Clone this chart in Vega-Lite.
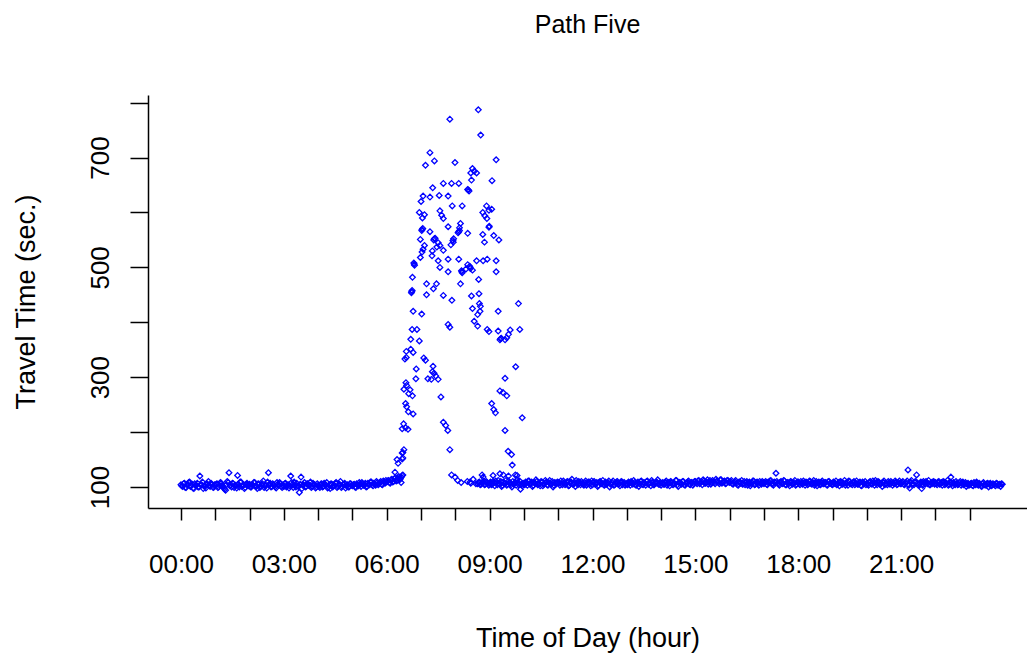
{
"$schema":"https://vega.github.io/schema/vega-lite/v6.json",
"width":879,"height":413,
"autosize":{"type":"none"},
"padding":{"left":148,"top":95,"right":0,"bottom":148},
"background":"white",
"config":{"view":{"stroke":null},"font":"Liberation Sans"},
"title":{"text":"Path Five","fontSize":25,"fontWeight":"normal","color":"black","font":"Liberation Sans","anchor":"middle","offset":57},
"layer":[
{"data":{"values":[
{"t":0,"v":104},{"t":0.05,"v":101},{"t":0.1,"v":107},{"t":0.15,"v":99},{"t":0.2,"v":105},{"t":0.25,"v":109},{"t":0.3,"v":102},{"t":0.35,"v":98},{"t":0.4,"v":106},{"t":0.45,"v":103},{"t":0.5,"v":100},{"t":0.55,"v":120},{"t":0.6,"v":104},{"t":0.65,"v":97},{"t":0.7,"v":102},{"t":0.75,"v":106},{"t":0.8,"v":110},{"t":0.85,"v":101},{"t":0.9,"v":105},{"t":0.95,"v":99},
{"t":1,"v":102},{"t":1.05,"v":106},{"t":1.1,"v":100},{"t":1.15,"v":108},{"t":1.2,"v":103},{"t":1.25,"v":98},{"t":1.3,"v":94},{"t":1.35,"v":110},{"t":1.4,"v":126},{"t":1.45,"v":104},{"t":1.5,"v":107},{"t":1.55,"v":99},{"t":1.6,"v":103},{"t":1.65,"v":121},{"t":1.7,"v":100},{"t":1.75,"v":109},{"t":1.8,"v":102},{"t":1.85,"v":97},{"t":1.9,"v":105},{"t":1.95,"v":103},
{"t":2,"v":105},{"t":2.05,"v":100},{"t":2.1,"v":103},{"t":2.15,"v":108},{"t":2.2,"v":101},{"t":2.25,"v":106},{"t":2.3,"v":99},{"t":2.35,"v":104},{"t":2.4,"v":111},{"t":2.45,"v":102},{"t":2.5,"v":98},{"t":2.55,"v":126},{"t":2.6,"v":107},{"t":2.65,"v":101},{"t":2.7,"v":104},{"t":2.75,"v":100},{"t":2.8,"v":108},{"t":2.85,"v":103},{"t":2.9,"v":106},{"t":2.95,"v":99},
{"t":3,"v":101},{"t":3.05,"v":107},{"t":3.1,"v":103},{"t":3.15,"v":98},{"t":3.2,"v":120},{"t":3.25,"v":104},{"t":3.3,"v":109},{"t":3.35,"v":100},{"t":3.4,"v":102},{"t":3.45,"v":90},{"t":3.5,"v":118},{"t":3.55,"v":103},{"t":3.6,"v":108},{"t":3.65,"v":101},{"t":3.7,"v":106},{"t":3.75,"v":102},{"t":3.8,"v":99},{"t":3.85,"v":107},{"t":3.9,"v":104},{"t":3.95,"v":100},
{"t":4,"v":103},{"t":4.05,"v":99},{"t":4.1,"v":106},{"t":4.15,"v":101},{"t":4.2,"v":104},{"t":4.25,"v":108},{"t":4.3,"v":100},{"t":4.35,"v":97},{"t":4.4,"v":105},{"t":4.45,"v":102},{"t":4.5,"v":107},{"t":4.55,"v":99},{"t":4.6,"v":103},{"t":4.65,"v":110},{"t":4.7,"v":101},{"t":4.75,"v":105},{"t":4.8,"v":98},{"t":4.85,"v":104},{"t":4.9,"v":100},{"t":4.95,"v":106},
{"t":5,"v":102},{"t":5.05,"v":105},{"t":5.1,"v":99},{"t":5.15,"v":104},{"t":5.2,"v":108},{"t":5.25,"v":101},{"t":5.3,"v":106},{"t":5.35,"v":103},{"t":5.4,"v":100},{"t":5.45,"v":107},{"t":5.5,"v":104},{"t":5.55,"v":109},{"t":5.6,"v":102},{"t":5.65,"v":106},{"t":5.7,"v":110},{"t":5.75,"v":104},{"t":5.8,"v":108},{"t":5.85,"v":105},{"t":5.9,"v":111},{"t":5.95,"v":107},
{"t":0.025,"v":102},{"t":0.075,"v":106},{"t":0.125,"v":99},{"t":0.175,"v":104},{"t":0.225,"v":108},{"t":0.275,"v":101},{"t":0.325,"v":105},{"t":0.375,"v":97},{"t":0.425,"v":103},{"t":0.475,"v":107},{"t":0.525,"v":100},{"t":0.575,"v":104},{"t":0.625,"v":109},{"t":0.675,"v":102},{"t":0.725,"v":98},{"t":0.775,"v":105},{"t":0.825,"v":103},{"t":0.875,"v":107},{"t":0.925,"v":100},{"t":0.975,"v":104},
{"t":1.025,"v":105},{"t":1.075,"v":99},{"t":1.125,"v":103},{"t":1.175,"v":107},{"t":1.225,"v":101},{"t":1.275,"v":96},{"t":1.325,"v":104},{"t":1.375,"v":108},{"t":1.425,"v":102},{"t":1.475,"v":100},{"t":1.525,"v":106},{"t":1.575,"v":103},{"t":1.625,"v":98},{"t":1.675,"v":105},{"t":1.725,"v":109},{"t":1.775,"v":101},{"t":1.825,"v":104},{"t":1.875,"v":99},{"t":1.925,"v":107},{"t":1.975,"v":102},
{"t":2.025,"v":100},{"t":2.075,"v":104},{"t":2.125,"v":108},{"t":2.175,"v":102},{"t":2.225,"v":97},{"t":2.275,"v":105},{"t":2.325,"v":101},{"t":2.375,"v":106},{"t":2.425,"v":99},{"t":2.475,"v":103},{"t":2.525,"v":109},{"t":2.575,"v":104},{"t":2.625,"v":100},{"t":2.675,"v":106},{"t":2.725,"v":102},{"t":2.775,"v":98},{"t":2.825,"v":105},{"t":2.875,"v":108},{"t":2.925,"v":101},{"t":2.975,"v":104},
{"t":3.025,"v":106},{"t":3.075,"v":100},{"t":3.125,"v":104},{"t":3.175,"v":102},{"t":3.225,"v":108},{"t":3.275,"v":99},{"t":3.325,"v":103},{"t":3.375,"v":107},{"t":3.425,"v":101},{"t":3.475,"v":105},{"t":3.525,"v":97},{"t":3.575,"v":104},{"t":3.625,"v":100},{"t":3.675,"v":106},{"t":3.725,"v":103},{"t":3.775,"v":109},{"t":3.825,"v":101},{"t":3.875,"v":104},{"t":3.925,"v":98},{"t":3.975,"v":106},
{"t":4.025,"v":101},{"t":4.075,"v":105},{"t":4.125,"v":100},{"t":4.175,"v":107},{"t":4.225,"v":103},{"t":4.275,"v":98},{"t":4.325,"v":104},{"t":4.375,"v":106},{"t":4.425,"v":100},{"t":4.475,"v":103},{"t":4.525,"v":108},{"t":4.575,"v":101},{"t":4.625,"v":105},{"t":4.675,"v":99},{"t":4.725,"v":104},{"t":4.775,"v":107},{"t":4.825,"v":102},{"t":4.875,"v":100},{"t":4.925,"v":106},{"t":4.975,"v":103},
{"t":5.025,"v":104},{"t":5.075,"v":100},{"t":5.125,"v":106},{"t":5.175,"v":102},{"t":5.225,"v":105},{"t":5.275,"v":108},{"t":5.325,"v":103},{"t":5.375,"v":107},{"t":5.425,"v":101},{"t":5.475,"v":105},{"t":5.525,"v":109},{"t":5.575,"v":104},{"t":5.625,"v":107},{"t":5.675,"v":103},{"t":5.725,"v":108},{"t":5.775,"v":106},{"t":5.825,"v":110},{"t":5.875,"v":104},{"t":5.925,"v":109},{"t":5.975,"v":112},
{"t":6,"v":109},{"t":6.05,"v":112},{"t":6.1,"v":107},{"t":6.15,"v":114},{"t":6.2,"v":110},{"t":6.25,"v":117},{"t":6.3,"v":112},{"t":6.35,"v":119},{"t":6.4,"v":115},{"t":6.45,"v":121},
{"t":6.025,"v":111},{"t":6.075,"v":108},{"t":6.125,"v":113},{"t":6.175,"v":109},{"t":6.225,"v":115},{"t":6.275,"v":111},{"t":6.325,"v":116},{"t":6.375,"v":113},{"t":6.425,"v":118},
{"t":6.24,"v":127},{"t":6.3,"v":150},{"t":6.33,"v":143},{"t":6.47,"v":153},{"t":6.45,"v":151},{"t":6.47,"v":122},{"t":6.42,"v":108},
{"t":8.67,"v":787},{"t":7.84,"v":770},{"t":8.74,"v":741},{"t":7.26,"v":709},{"t":7.13,"v":686},{"t":7.39,"v":694},{"t":7.99,"v":691},{"t":9.19,"v":696},
{"t":8.5,"v":680},{"t":8.55,"v":675},{"t":8.45,"v":672},{"t":8.62,"v":672},{"t":8.47,"v":659},{"t":9.07,"v":658},
{"t":7.65,"v":653},{"t":7.89,"v":653},{"t":8.1,"v":653},{"t":7.34,"v":645},{"t":8.38,"v":641},{"t":8.4,"v":639},{"t":8.36,"v":642},
{"t":7.06,"v":630},{"t":7.26,"v":628},{"t":7.53,"v":631},{"t":7.79,"v":630},{"t":7,"v":620},{"t":7.91,"v":612},{"t":8.2,"v":612},{"t":8.91,"v":612},{"t":9.06,"v":606},
{"t":6.95,"v":600},{"t":7.1,"v":596},{"t":7.04,"v":590},{"t":7.55,"v":603},{"t":7.6,"v":595},{"t":7.65,"v":589},{"t":8.8,"v":600},{"t":8.86,"v":594},{"t":8.92,"v":589},{"t":8.98,"v":604},
{"t":7.79,"v":574},{"t":8.15,"v":580},{"t":8.12,"v":572},{"t":7.03,"v":569},{"t":7.02,"v":567},{"t":7.05,"v":571},{"t":7.26,"v":565},{"t":8.1,"v":565},{"t":8.08,"v":563},{"t":8.12,"v":567},{"t":8.36,"v":562},{"t":8.99,"v":575},{"t":8.98,"v":573},{"t":8.8,"v":560},{"t":8.85,"v":546},{"t":9.12,"v":558},{"t":9.27,"v":550},
{"t":6.98,"v":551},{"t":7.39,"v":552},{"t":7.37,"v":550},{"t":7.41,"v":553},{"t":7.5,"v":545},{"t":7.55,"v":540},{"t":7.46,"v":537},{"t":7.95,"v":552},{"t":7.93,"v":549},{"t":7.94,"v":546},{"t":7.87,"v":541},{"t":7.1,"v":540},{"t":7.06,"v":533},{"t":7.03,"v":528},{"t":7.65,"v":531},{"t":7.33,"v":530},{"t":7.32,"v":521},{"t":6.98,"v":518},{"t":7.5,"v":512},{"t":7.55,"v":500},{"t":7.79,"v":515},{"t":8.1,"v":515},{"t":8.62,"v":512},{"t":8.81,"v":512},{"t":8.93,"v":515},{"t":9.19,"v":512},
{"t":6.8,"v":506},{"t":6.81,"v":504},{"t":6.79,"v":508},{"t":8.36,"v":505},{"t":8.43,"v":500},{"t":8.44,"v":498},{"t":8.42,"v":502},{"t":8.31,"v":497},{"t":8.5,"v":495},{"t":8.19,"v":492},{"t":8.2,"v":490},{"t":8.18,"v":494},{"t":7.79,"v":492},{"t":6.75,"v":482},{"t":9.19,"v":492},{"t":8.68,"v":478},
{"t":7.16,"v":470},{"t":7.45,"v":470},{"t":7.36,"v":461},{"t":8.15,"v":470},{"t":7.16,"v":450},{"t":6.73,"v":456},{"t":6.74,"v":458},{"t":6.72,"v":454},{"t":7.65,"v":449},{"t":7.9,"v":440},{"t":8.47,"v":448},{"t":8.69,"v":452},{"t":8.7,"v":434},{"t":8.73,"v":429},{"t":8.72,"v":420},{"t":8.5,"v":425},{"t":8.65,"v":414},{"t":8.55,"v":402},{"t":8.65,"v":393},{"t":9.25,"v":420},{"t":9.84,"v":434},{"t":6.77,"v":420},{"t":7.02,"v":415},{"t":7.79,"v":396},{"t":7.84,"v":391},{"t":8.93,"v":387},{"t":8.98,"v":383},{"t":9.25,"v":384},
{"t":9.32,"v":370},{"t":9.3,"v":368},{"t":9.34,"v":371},{"t":9.45,"v":368},{"t":9.5,"v":372},{"t":9.55,"v":378},{"t":9.6,"v":386},{"t":9.88,"v":387},{"t":6.74,"v":387},{"t":6.88,"v":387},{"t":6.7,"v":369},{"t":6.95,"v":366},{"t":6.57,"v":347},{"t":6.7,"v":351},{"t":6.77,"v":345},{"t":6.53,"v":333},{"t":6.57,"v":336},{"t":7.08,"v":335},{"t":7.13,"v":331},{"t":6.86,"v":315},{"t":7.35,"v":320},{"t":7.33,"v":310},{"t":7.38,"v":307},{"t":7.43,"v":302},{"t":7.5,"v":296},{"t":7.2,"v":297},{"t":7.3,"v":296},{"t":6.85,"v":297},{"t":9.45,"v":298},{"t":9.76,"v":319},
{"t":6.56,"v":290},{"t":6.58,"v":285},{"t":6.5,"v":278},{"t":6.68,"v":277},{"t":6.64,"v":270},{"t":6.75,"v":266},{"t":9.3,"v":275},{"t":9.39,"v":272},{"t":9.5,"v":266},{"t":7.58,"v":264},{"t":6.55,"v":252},{"t":6.58,"v":246},{"t":6.63,"v":237},{"t":6.77,"v":233},{"t":9.06,"v":252},{"t":9.12,"v":241},{"t":9.17,"v":235},{"t":9.95,"v":226},
{"t":6.49,"v":215},{"t":6.55,"v":208},{"t":6.62,"v":205},{"t":6.45,"v":206},{"t":7.65,"v":218},{"t":7.72,"v":212},{"t":7.78,"v":203},{"t":9.45,"v":203},{"t":7.84,"v":168},{"t":6.5,"v":168},{"t":6.47,"v":163},{"t":6.45,"v":162},{"t":9.54,"v":165},{"t":9.64,"v":159},{"t":9.66,"v":140},
{"t":7.89,"v":122},{"t":7.99,"v":118},{"t":8.07,"v":112},{"t":8.17,"v":108},{"t":8.35,"v":110},{"t":8.43,"v":109},{"t":8.45,"v":107},{"t":8.52,"v":114},{"t":8.6,"v":106},
{"t":8.65,"v":106},{"t":8.7,"v":109},{"t":8.75,"v":105},{"t":8.8,"v":108},{"t":8.85,"v":104},{"t":8.9,"v":110},{"t":8.95,"v":106},{"t":8.78,"v":122},{"t":8.81,"v":118},
{"t":8.675,"v":108},{"t":8.725,"v":104},{"t":8.775,"v":107},{"t":8.825,"v":111},{"t":8.875,"v":105},{"t":8.925,"v":108},{"t":8.975,"v":103},
{"t":9,"v":107},{"t":9.05,"v":104},{"t":9.1,"v":110},{"t":9.15,"v":102},{"t":9.2,"v":108},{"t":9.25,"v":112},{"t":9.3,"v":105},{"t":9.35,"v":101},{"t":9.4,"v":109},{"t":9.45,"v":106},{"t":9.5,"v":103},{"t":9.55,"v":111},{"t":9.6,"v":107},{"t":9.65,"v":100},{"t":9.7,"v":105},{"t":9.75,"v":109},{"t":9.8,"v":113},{"t":9.85,"v":104},{"t":9.9,"v":96},{"t":9.95,"v":102},
{"t":9.1,"v":121},{"t":9.3,"v":124},{"t":9.4,"v":122},{"t":9.55,"v":120},{"t":9.75,"v":122},{"t":9.8,"v":121},
{"t":9.025,"v":109},{"t":9.075,"v":105},{"t":9.125,"v":108},{"t":9.175,"v":111},{"t":9.225,"v":104},{"t":9.275,"v":107},{"t":9.325,"v":110},{"t":9.375,"v":103},{"t":9.425,"v":106},{"t":9.475,"v":112},{"t":9.525,"v":105},{"t":9.575,"v":108},{"t":9.625,"v":104},{"t":9.675,"v":110},{"t":9.725,"v":107},{"t":9.775,"v":103},{"t":9.825,"v":108},{"t":9.875,"v":111},{"t":9.925,"v":105},{"t":9.975,"v":107},
{"t":10,"v":105},{"t":10.05,"v":109},{"t":10.1,"v":103},{"t":10.15,"v":111},{"t":10.2,"v":106},{"t":10.25,"v":101},{"t":10.3,"v":108},{"t":10.35,"v":113},{"t":10.4,"v":104},{"t":10.45,"v":107},{"t":10.5,"v":110},{"t":10.55,"v":102},{"t":10.6,"v":106},{"t":10.65,"v":109},{"t":10.7,"v":103},{"t":10.75,"v":112},{"t":10.8,"v":105},{"t":10.85,"v":100},{"t":10.9,"v":108},{"t":10.95,"v":106},
{"t":10.025,"v":104},{"t":10.075,"v":108},{"t":10.125,"v":111},{"t":10.175,"v":105},{"t":10.225,"v":109},{"t":10.275,"v":103},{"t":10.325,"v":107},{"t":10.375,"v":110},{"t":10.425,"v":106},{"t":10.475,"v":102},{"t":10.525,"v":109},{"t":10.575,"v":105},{"t":10.625,"v":112},{"t":10.675,"v":104},{"t":10.725,"v":108},{"t":10.775,"v":106},{"t":10.825,"v":110},{"t":10.875,"v":103},{"t":10.925,"v":107},{"t":10.975,"v":109},
{"t":11,"v":108},{"t":11.05,"v":103},{"t":11.1,"v":106},{"t":11.15,"v":111},{"t":11.2,"v":104},{"t":11.25,"v":109},{"t":11.3,"v":102},{"t":11.35,"v":107},{"t":11.4,"v":114},{"t":11.45,"v":105},{"t":11.5,"v":101},{"t":11.55,"v":108},{"t":11.6,"v":110},{"t":11.65,"v":104},{"t":11.7,"v":107},{"t":11.75,"v":103},{"t":11.8,"v":111},{"t":11.85,"v":106},{"t":11.9,"v":109},{"t":11.95,"v":102},
{"t":11.025,"v":107},{"t":11.075,"v":111},{"t":11.125,"v":104},{"t":11.175,"v":108},{"t":11.225,"v":106},{"t":11.275,"v":110},{"t":11.325,"v":103},{"t":11.375,"v":109},{"t":11.425,"v":105},{"t":11.475,"v":108},{"t":11.525,"v":112},{"t":11.575,"v":104},{"t":11.625,"v":107},{"t":11.675,"v":110},{"t":11.725,"v":105},{"t":11.775,"v":108},{"t":11.825,"v":103},{"t":11.875,"v":109},{"t":11.925,"v":106},{"t":11.975,"v":111},
{"t":12,"v":104},{"t":12.05,"v":110},{"t":12.1,"v":106},{"t":12.15,"v":101},{"t":12.2,"v":109},{"t":12.25,"v":107},{"t":12.3,"v":112},{"t":12.35,"v":103},{"t":12.4,"v":105},{"t":12.45,"v":108},{"t":12.5,"v":100},{"t":12.55,"v":106},{"t":12.6,"v":111},{"t":12.65,"v":104},{"t":12.7,"v":109},{"t":12.75,"v":105},{"t":12.8,"v":102},{"t":12.85,"v":110},{"t":12.9,"v":107},{"t":12.95,"v":103},
{"t":12.025,"v":109},{"t":12.075,"v":105},{"t":12.125,"v":108},{"t":12.175,"v":103},{"t":12.225,"v":110},{"t":12.275,"v":106},{"t":12.325,"v":104},{"t":12.375,"v":109},{"t":12.425,"v":107},{"t":12.475,"v":111},{"t":12.525,"v":105},{"t":12.575,"v":108},{"t":12.625,"v":103},{"t":12.675,"v":107},{"t":12.725,"v":110},{"t":12.775,"v":106},{"t":12.825,"v":109},{"t":12.875,"v":104},{"t":12.925,"v":108},{"t":12.975,"v":105},
{"t":13,"v":106},{"t":13.05,"v":109},{"t":13.1,"v":103},{"t":13.15,"v":108},{"t":13.2,"v":112},{"t":13.25,"v":104},{"t":13.3,"v":107},{"t":13.35,"v":101},{"t":13.4,"v":110},{"t":13.45,"v":105},{"t":13.5,"v":108},{"t":13.55,"v":103},{"t":13.6,"v":111},{"t":13.65,"v":106},{"t":13.7,"v":102},{"t":13.75,"v":109},{"t":13.8,"v":104},{"t":13.85,"v":107},{"t":13.9,"v":113},{"t":13.95,"v":105},
{"t":13.025,"v":104},{"t":13.075,"v":107},{"t":13.125,"v":110},{"t":13.175,"v":105},{"t":13.225,"v":108},{"t":13.275,"v":103},{"t":13.325,"v":109},{"t":13.375,"v":106},{"t":13.425,"v":111},{"t":13.475,"v":104},{"t":13.525,"v":107},{"t":13.575,"v":110},{"t":13.625,"v":105},{"t":13.675,"v":108},{"t":13.725,"v":112},{"t":13.775,"v":104},{"t":13.825,"v":107},{"t":13.875,"v":109},{"t":13.925,"v":105},{"t":13.975,"v":108},
{"t":14,"v":103},{"t":14.05,"v":108},{"t":14.1,"v":105},{"t":14.15,"v":111},{"t":14.2,"v":107},{"t":14.25,"v":102},{"t":14.3,"v":109},{"t":14.35,"v":104},{"t":14.4,"v":106},{"t":14.45,"v":112},{"t":14.5,"v":101},{"t":14.55,"v":108},{"t":14.6,"v":105},{"t":14.65,"v":110},{"t":14.7,"v":103},{"t":14.75,"v":107},{"t":14.8,"v":111},{"t":14.85,"v":104},{"t":14.9,"v":108},{"t":14.95,"v":106},
{"t":14.025,"v":107},{"t":14.075,"v":105},{"t":14.125,"v":109},{"t":14.175,"v":103},{"t":14.225,"v":108},{"t":14.275,"v":110},{"t":14.325,"v":105},{"t":14.375,"v":107},{"t":14.425,"v":112},{"t":14.475,"v":104},{"t":14.525,"v":108},{"t":14.575,"v":106},{"t":14.625,"v":110},{"t":14.675,"v":104},{"t":14.725,"v":107},{"t":14.775,"v":109},{"t":14.825,"v":105},{"t":14.875,"v":108},{"t":14.925,"v":103},{"t":14.975,"v":110},
{"t":15,"v":110},{"t":15.05,"v":106},{"t":15.1,"v":112},{"t":15.15,"v":108},{"t":15.2,"v":104},{"t":15.25,"v":111},{"t":15.3,"v":107},{"t":15.35,"v":113},{"t":15.4,"v":109},{"t":15.45,"v":105},{"t":15.5,"v":112},{"t":15.55,"v":108},{"t":15.6,"v":114},{"t":15.65,"v":110},{"t":15.7,"v":106},{"t":15.75,"v":113},{"t":15.8,"v":109},{"t":15.85,"v":111},{"t":15.9,"v":107},{"t":15.95,"v":112},
{"t":15.025,"v":108},{"t":15.075,"v":111},{"t":15.125,"v":106},{"t":15.175,"v":110},{"t":15.225,"v":113},{"t":15.275,"v":107},{"t":15.325,"v":109},{"t":15.375,"v":105},{"t":15.425,"v":112},{"t":15.475,"v":108},{"t":15.525,"v":110},{"t":15.575,"v":106},{"t":15.625,"v":111},{"t":15.675,"v":108},{"t":15.725,"v":113},{"t":15.775,"v":107},{"t":15.825,"v":110},{"t":15.875,"v":106},{"t":15.925,"v":112},{"t":15.975,"v":109},
{"t":16,"v":108},{"t":16.05,"v":112},{"t":16.1,"v":105},{"t":16.15,"v":110},{"t":16.2,"v":107},{"t":16.25,"v":103},{"t":16.3,"v":109},{"t":16.35,"v":112},{"t":16.4,"v":106},{"t":16.45,"v":104},{"t":16.5,"v":110},{"t":16.55,"v":107},{"t":16.6,"v":102},{"t":16.65,"v":108},{"t":16.7,"v":111},{"t":16.75,"v":105},{"t":16.8,"v":109},{"t":16.85,"v":103},{"t":16.9,"v":107},{"t":16.95,"v":110},
{"t":16.025,"v":110},{"t":16.075,"v":106},{"t":16.125,"v":108},{"t":16.175,"v":112},{"t":16.225,"v":104},{"t":16.275,"v":109},{"t":16.325,"v":107},{"t":16.375,"v":105},{"t":16.425,"v":110},{"t":16.475,"v":108},{"t":16.525,"v":103},{"t":16.575,"v":109},{"t":16.625,"v":106},{"t":16.675,"v":111},{"t":16.725,"v":104},{"t":16.775,"v":108},{"t":16.825,"v":106},{"t":16.875,"v":110},{"t":16.925,"v":105},{"t":16.975,"v":108},
{"t":17,"v":106},{"t":17.05,"v":110},{"t":17.1,"v":104},{"t":17.15,"v":108},{"t":17.2,"v":112},{"t":17.25,"v":105},{"t":17.3,"v":109},{"t":17.35,"v":125},{"t":17.4,"v":107},{"t":17.45,"v":103},{"t":17.5,"v":110},{"t":17.55,"v":106},{"t":17.6,"v":111},{"t":17.65,"v":104},{"t":17.7,"v":108},{"t":17.75,"v":102},{"t":17.8,"v":109},{"t":17.85,"v":106},{"t":17.9,"v":112},{"t":17.95,"v":105},
{"t":17.025,"v":108},{"t":17.075,"v":105},{"t":17.125,"v":109},{"t":17.175,"v":111},{"t":17.225,"v":106},{"t":17.275,"v":103},{"t":17.325,"v":108},{"t":17.375,"v":110},{"t":17.425,"v":105},{"t":17.475,"v":109},{"t":17.525,"v":107},{"t":17.575,"v":112},{"t":17.625,"v":104},{"t":17.675,"v":108},{"t":17.725,"v":106},{"t":17.775,"v":110},{"t":17.825,"v":105},{"t":17.875,"v":108},{"t":17.925,"v":103},{"t":17.975,"v":109},
{"t":18,"v":109},{"t":18.05,"v":104},{"t":18.1,"v":107},{"t":18.15,"v":111},{"t":18.2,"v":103},{"t":18.25,"v":108},{"t":18.3,"v":106},{"t":18.35,"v":110},{"t":18.4,"v":105},{"t":18.45,"v":112},{"t":18.5,"v":107},{"t":18.55,"v":102},{"t":18.6,"v":109},{"t":18.65,"v":104},{"t":18.7,"v":111},{"t":18.75,"v":106},{"t":18.8,"v":108},{"t":18.85,"v":103},{"t":18.9,"v":110},{"t":18.95,"v":107},
{"t":18.025,"v":106},{"t":18.075,"v":110},{"t":18.125,"v":105},{"t":18.175,"v":108},{"t":18.225,"v":109},{"t":18.275,"v":104},{"t":18.325,"v":111},{"t":18.375,"v":106},{"t":18.425,"v":108},{"t":18.475,"v":103},{"t":18.525,"v":110},{"t":18.575,"v":107},{"t":18.625,"v":105},{"t":18.675,"v":109},{"t":18.725,"v":106},{"t":18.775,"v":108},{"t":18.825,"v":104},{"t":18.875,"v":110},{"t":18.925,"v":107},{"t":18.975,"v":105},
{"t":19,"v":104},{"t":19.05,"v":108},{"t":19.1,"v":111},{"t":19.15,"v":106},{"t":19.2,"v":102},{"t":19.25,"v":109},{"t":19.3,"v":105},{"t":19.35,"v":112},{"t":19.4,"v":107},{"t":19.45,"v":103},{"t":19.5,"v":110},{"t":19.55,"v":106},{"t":19.6,"v":108},{"t":19.65,"v":104},{"t":19.7,"v":111},{"t":19.75,"v":105},{"t":19.8,"v":109},{"t":19.85,"v":102},{"t":19.9,"v":107},{"t":19.95,"v":110},
{"t":19.025,"v":109},{"t":19.075,"v":106},{"t":19.125,"v":104},{"t":19.175,"v":108},{"t":19.225,"v":110},{"t":19.275,"v":105},{"t":19.325,"v":107},{"t":19.375,"v":103},{"t":19.425,"v":109},{"t":19.475,"v":111},{"t":19.525,"v":106},{"t":19.575,"v":104},{"t":19.625,"v":110},{"t":19.675,"v":107},{"t":19.725,"v":105},{"t":19.775,"v":108},{"t":19.825,"v":103},{"t":19.875,"v":109},{"t":19.925,"v":106},{"t":19.975,"v":104},
{"t":20,"v":107},{"t":20.05,"v":103},{"t":20.1,"v":110},{"t":20.15,"v":105},{"t":20.2,"v":108},{"t":20.25,"v":112},{"t":20.3,"v":104},{"t":20.35,"v":109},{"t":20.4,"v":106},{"t":20.45,"v":101},{"t":20.5,"v":111},{"t":20.55,"v":107},{"t":20.6,"v":104},{"t":20.65,"v":108},{"t":20.7,"v":110},{"t":20.75,"v":103},{"t":20.8,"v":106},{"t":20.85,"v":109},{"t":20.9,"v":105},{"t":20.95,"v":111},
{"t":20.025,"v":105},{"t":20.075,"v":109},{"t":20.125,"v":106},{"t":20.175,"v":111},{"t":20.225,"v":103},{"t":20.275,"v":108},{"t":20.325,"v":110},{"t":20.375,"v":105},{"t":20.425,"v":107},{"t":20.475,"v":109},{"t":20.525,"v":104},{"t":20.575,"v":106},{"t":20.625,"v":110},{"t":20.675,"v":105},{"t":20.725,"v":108},{"t":20.775,"v":107},{"t":20.825,"v":111},{"t":20.875,"v":104},{"t":20.925,"v":108},{"t":20.975,"v":106},
{"t":21,"v":106},{"t":21.05,"v":110},{"t":21.1,"v":104},{"t":21.15,"v":108},{"t":21.2,"v":131},{"t":21.25,"v":98},{"t":21.3,"v":112},{"t":21.35,"v":105},{"t":21.4,"v":109},{"t":21.45,"v":122},{"t":21.5,"v":103},{"t":21.55,"v":107},{"t":21.6,"v":97},{"t":21.65,"v":110},{"t":21.7,"v":105},{"t":21.75,"v":108},{"t":21.8,"v":112},{"t":21.85,"v":104},{"t":21.9,"v":106},{"t":21.95,"v":110},
{"t":21.025,"v":108},{"t":21.075,"v":105},{"t":21.125,"v":107},{"t":21.175,"v":111},{"t":21.225,"v":103},{"t":21.275,"v":109},{"t":21.325,"v":106},{"t":21.375,"v":104},{"t":21.425,"v":110},{"t":21.475,"v":107},{"t":21.525,"v":105},{"t":21.575,"v":109},{"t":21.625,"v":103},{"t":21.675,"v":108},{"t":21.725,"v":110},{"t":21.775,"v":106},{"t":21.825,"v":104},{"t":21.875,"v":108},{"t":21.925,"v":109},{"t":21.975,"v":105},
{"t":22,"v":108},{"t":22.05,"v":104},{"t":22.1,"v":110},{"t":22.15,"v":106},{"t":22.2,"v":103},{"t":22.25,"v":109},{"t":22.3,"v":107},{"t":22.35,"v":112},{"t":22.4,"v":105},{"t":22.45,"v":118},{"t":22.5,"v":102},{"t":22.55,"v":107},{"t":22.6,"v":110},{"t":22.65,"v":104},{"t":22.7,"v":108},{"t":22.75,"v":103},{"t":22.8,"v":109},{"t":22.85,"v":106},{"t":22.9,"v":101},{"t":22.95,"v":107},
{"t":22.025,"v":106},{"t":22.075,"v":109},{"t":22.125,"v":105},{"t":22.175,"v":108},{"t":22.225,"v":110},{"t":22.275,"v":104},{"t":22.325,"v":107},{"t":22.375,"v":103},{"t":22.425,"v":109},{"t":22.475,"v":106},{"t":22.525,"v":108},{"t":22.575,"v":104},{"t":22.625,"v":107},{"t":22.675,"v":105},{"t":22.725,"v":110},{"t":22.775,"v":106},{"t":22.825,"v":104},{"t":22.875,"v":108},{"t":22.925,"v":105},{"t":22.975,"v":103},
{"t":23,"v":104},{"t":23.05,"v":107},{"t":23.1,"v":102},{"t":23.15,"v":106},{"t":23.2,"v":109},{"t":23.25,"v":103},{"t":23.3,"v":105},{"t":23.35,"v":101},{"t":23.4,"v":108},{"t":23.45,"v":104},{"t":23.5,"v":106},{"t":23.55,"v":100},{"t":23.6,"v":107},{"t":23.65,"v":103},{"t":23.7,"v":105},{"t":23.75,"v":102},{"t":23.8,"v":106},{"t":23.85,"v":104},{"t":23.9,"v":101},{"t":23.95,"v":105},
{"t":23.025,"v":106},{"t":23.075,"v":103},{"t":23.125,"v":108},{"t":23.175,"v":104},{"t":23.225,"v":105},{"t":23.275,"v":107},{"t":23.325,"v":102},{"t":23.375,"v":106},{"t":23.425,"v":104},{"t":23.475,"v":103},{"t":23.525,"v":107},{"t":23.575,"v":105},{"t":23.625,"v":102},{"t":23.675,"v":106},{"t":23.725,"v":104},{"t":23.775,"v":107},{"t":23.825,"v":103},{"t":23.875,"v":105},{"t":23.925,"v":106}
]},
"mark":{"type":"point","shape":"diamond","filled":false,"size":32,"color":"#0000ff","strokeWidth":1.3,"opacity":1},
"encoding":{
"x":{"field":"t","type":"quantitative","scale":{"domain":[-0.962,24.67],"nice":false,"zero":false},
"axis":{"values":[0,1,2,3,4,5,6,7,8,9,10,11,12,13,14,15,16,17,18,19,20,21,22,23],"labelExpr":"datum.value % 3 == 0 ? (datum.value < 10 ? '0' : '') + datum.value + ':00' : ''","grid":false,"tickSize":12,"tickWidth":1.5,"tickColor":"black","domainColor":"black","domainWidth":1.5,"labelFontSize":26,"labelColor":"black","labelFont":"Liberation Sans","labelPadding":31,"labelOverlap":false,"labelFlush":false,"title":"Time of Day (hour)","titleFontSize":27,"titleFontWeight":"normal","titleColor":"black","titleFont":"Liberation Sans","titlePadding":48}},
"y":{"field":"v","type":"quantitative","scale":{"domain":[61.7,814],"nice":false,"zero":false},
"axis":{"values":[100,200,300,400,500,600,700,800],"labelExpr":"datum.value % 200 == 100 ? datum.label : ''","grid":false,"tickSize":18,"tickWidth":1.5,"tickColor":"black","domainColor":"black","domainWidth":1.5,"labelFontSize":26,"labelColor":"black","labelFont":"Liberation Sans","labelAngle":-90,"labelAlign":"center","labelBaseline":"alphabetic","labelPadding":22,"labelOverlap":false,"labelFlush":false,"title":"Travel Time (sec.)","titleFontSize":27,"titleFontWeight":"normal","titleColor":"black","titleFont":"Liberation Sans","titlePadding":47}}
}},
{"mark":{"type":"rule","color":"black","strokeWidth":1.5},"encoding":{"y":{"datum":814}}}
]
}
